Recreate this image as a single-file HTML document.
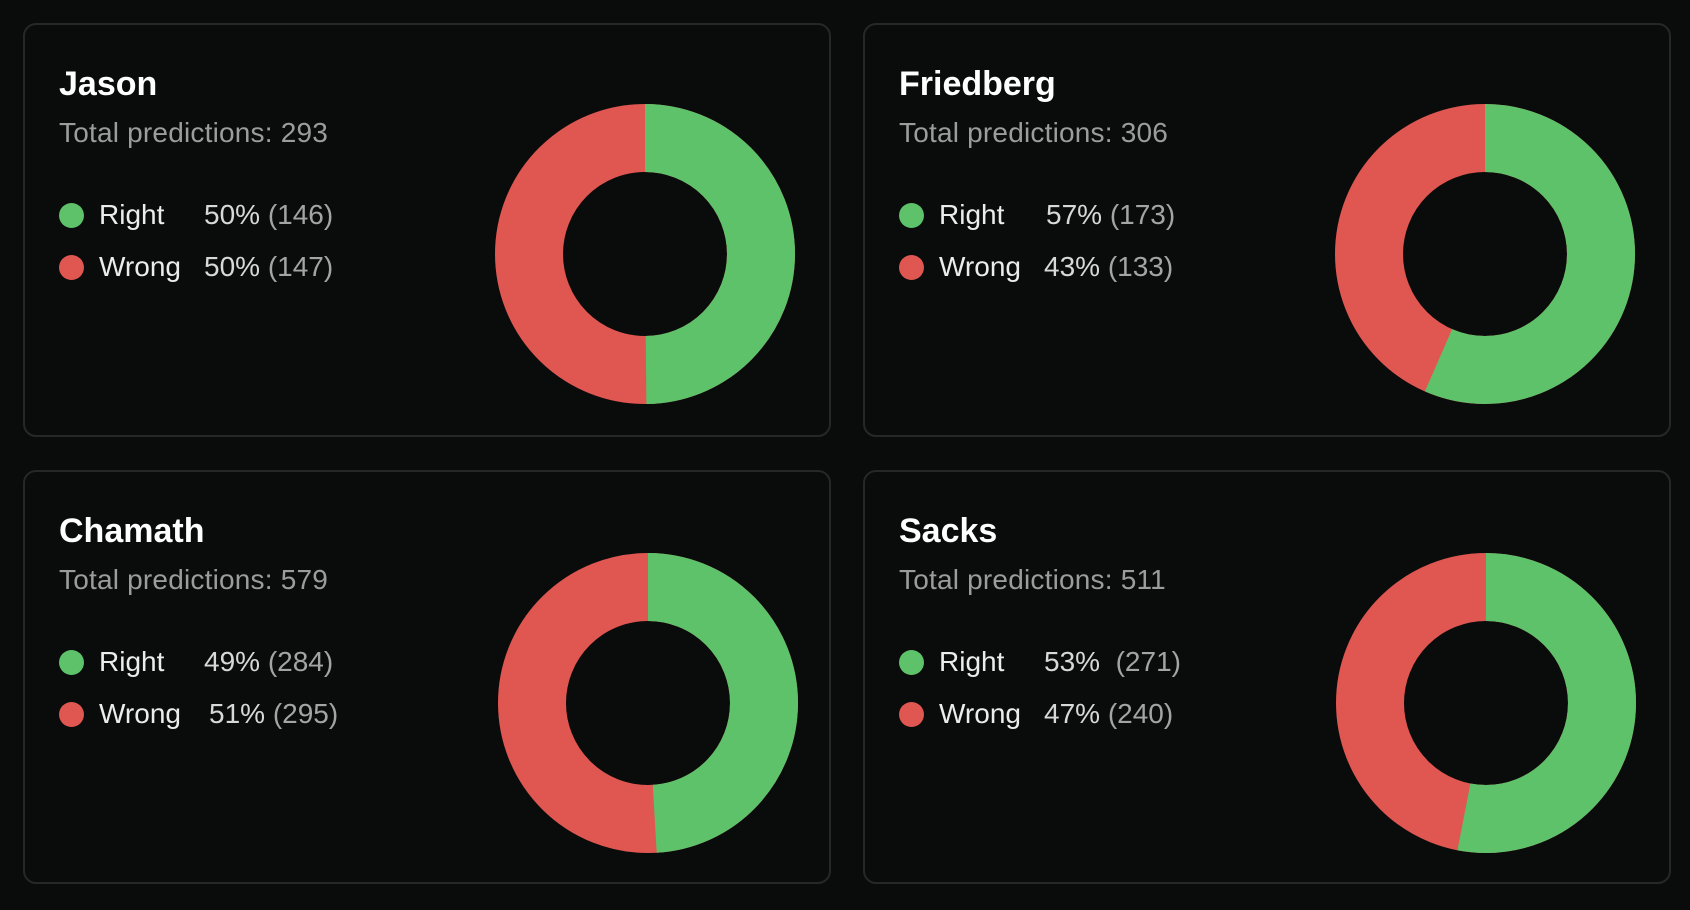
<!DOCTYPE html>
<html><head><style>
html,body{margin:0;padding:0;background:#0a0c0c;width:1690px;height:910px;overflow:hidden;font-family:"Liberation Sans",sans-serif}
.card{position:absolute;width:808px;height:414px;border:2px solid #262828;border-radius:13px;box-sizing:border-box;background:#0a0c0c}
.t{position:absolute;left:34px;top:40px;font-size:34px;font-weight:bold;color:#fff}
.s{position:absolute;left:34px;top:92px;font-size:28px;color:#9c9c9c;letter-spacing:0.2px}
.row{position:absolute;left:34px;font-size:28px;color:#ececec;height:30px;line-height:30px}
.dot{position:absolute;left:0;top:3px;width:25px;height:25px;border-radius:50%}
.lb{position:absolute;left:40px;white-space:nowrap}
.pc{position:absolute;white-space:nowrap;color:#d8d8d8}
.pc span{color:#a4a4a4}
svg{position:absolute}
</style></head><body>

<div class="card" style="left:23px;top:23px">
<div class="t">Jason</div><div class="s">Total predictions: 293</div>
<div class="row" style="top:175px"><div class="dot" style="background:#5ec26a"></div><div class="lb">Right</div><div class="pc" style="left:145px">50% <span>(146)</span></div></div>
<div class="row" style="top:227px"><div class="dot" style="background:#e05651"></div><div class="lb">Wrong</div><div class="pc" style="left:145px">50% <span>(147)</span></div></div>
<svg style="left:468px;top:77px" width="304" height="304"><circle cx="152" cy="152" r="116" fill="none" stroke="#e05651" stroke-width="68"/><circle cx="152" cy="152" r="116" fill="none" stroke="#5ec26a" stroke-width="68" stroke-dasharray="363.2 1000" transform="rotate(-90 152 152)"/></svg>
</div>

<div class="card" style="left:863px;top:23px">
<div class="t">Friedberg</div><div class="s">Total predictions: 306</div>
<div class="row" style="top:175px"><div class="dot" style="background:#5ec26a"></div><div class="lb">Right</div><div class="pc" style="left:147px">57% <span>(173)</span></div></div>
<div class="row" style="top:227px"><div class="dot" style="background:#e05651"></div><div class="lb">Wrong</div><div class="pc" style="left:145px">43% <span>(133)</span></div></div>
<svg style="left:468px;top:77px" width="304" height="304"><circle cx="152" cy="152" r="116" fill="none" stroke="#e05651" stroke-width="68"/><circle cx="152" cy="152" r="116" fill="none" stroke="#5ec26a" stroke-width="68" stroke-dasharray="412.1 1000" transform="rotate(-90 152 152)"/></svg>
</div>

<div class="card" style="left:23px;top:470px">
<div class="t">Chamath</div><div class="s">Total predictions: 579</div>
<div class="row" style="top:175px"><div class="dot" style="background:#5ec26a"></div><div class="lb">Right</div><div class="pc" style="left:145px">49% <span>(284)</span></div></div>
<div class="row" style="top:227px"><div class="dot" style="background:#e05651"></div><div class="lb">Wrong</div><div class="pc" style="left:150px">51% <span>(295)</span></div></div>
<svg style="left:471px;top:79px" width="304" height="304"><circle cx="152" cy="152" r="116" fill="none" stroke="#e05651" stroke-width="68"/><circle cx="152" cy="152" r="116" fill="none" stroke="#5ec26a" stroke-width="68" stroke-dasharray="357.5 1000" transform="rotate(-90 152 152)"/></svg>
</div>

<div class="card" style="left:863px;top:470px">
<div class="t">Sacks</div><div class="s">Total predictions: 511</div>
<div class="row" style="top:175px"><div class="dot" style="background:#5ec26a"></div><div class="lb">Right</div><div class="pc" style="left:145px">53% &nbsp;<span>(271)</span></div></div>
<div class="row" style="top:227px"><div class="dot" style="background:#e05651"></div><div class="lb">Wrong</div><div class="pc" style="left:145px">47% <span>(240)</span></div></div>
<svg style="left:469px;top:79px" width="304" height="304"><circle cx="152" cy="152" r="116" fill="none" stroke="#e05651" stroke-width="68"/><circle cx="152" cy="152" r="116" fill="none" stroke="#5ec26a" stroke-width="68" stroke-dasharray="386.5 1000" transform="rotate(-90 152 152)"/></svg>
</div>

</body></html>
